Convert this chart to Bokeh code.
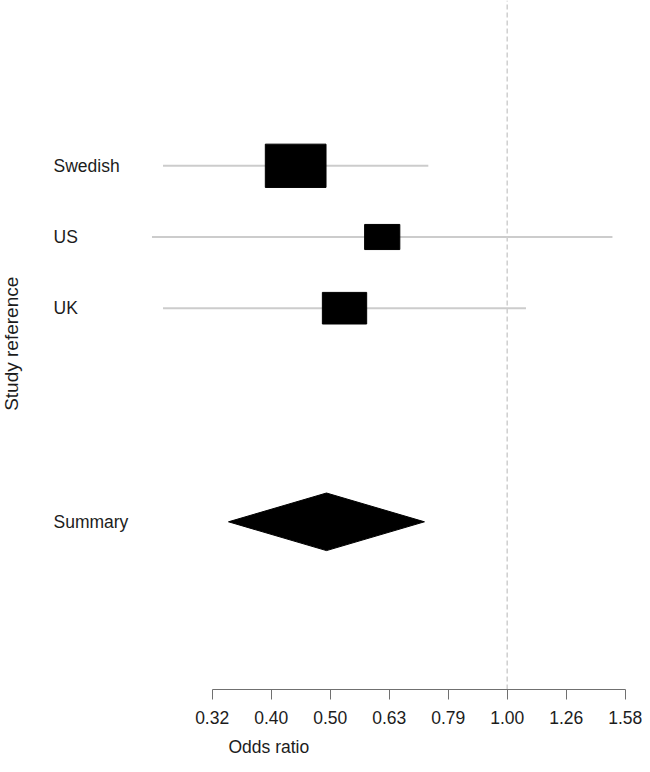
import math
from bokeh.plotting import figure
from bokeh.models import Range1d, FixedTicker
from bokeh.core.properties import value
from bokeh.embed import file_html
from bokeh.resources import INLINE

# ---------------- data ----------------
studies = ["Swedish", "US", "UK"]
study_rows = [1, 2, 3]
odds_ratio = [0.438, 0.614, 0.530]
ci_lower = [0.261, 0.250, 0.261]
ci_upper = [0.735, 1.508, 1.076]
relative_weight = [1.00, 0.58, 0.73]

summary_label = "Summary"
summary_row = 6
summary_or = 0.494
summary_lower = 0.337
summary_upper = 0.724

tick_values = [0.3162, 0.3981, 0.5012, 0.6310, 0.7943, 1.0, 1.2589, 1.5849]
tick_labels = ["0.32", "0.40", "0.50", "0.63", "0.79", "1.00", "1.26", "1.58"]

# ---------------- layout ----------------
W, H = 642, 756
PX_PER_DECADE = 590.0
X_ONE_PX = 506.7          # pixel position of OR = 1
PX_PER_ROW = 71.2
ROW0_PX = 94.1            # pixel position of row 0
AXIS_PX = 689.0

x_start = 10 ** (-X_ONE_PX / PX_PER_DECADE)
x_end = 10 ** ((W - X_ONE_PX) / PX_PER_DECADE)
y_top = -ROW0_PX / PX_PER_ROW
y_bottom = (H - ROW0_PX) / PX_PER_ROW
axis_row = (AXIS_PX - ROW0_PX) / PX_PER_ROW

BOX_W = 60.7
BOX_H = 43.3
DIAMOND_HALF_H = 28.8 / PX_PER_ROW

FONT = "Liberation Sans"
FONT_SIZE = "17.5px"
TEXT_COLOR = "#1c1c1c"

p = figure(width=W, height=H, x_axis_type="log",
           x_range=Range1d(x_start, x_end),
           y_range=Range1d(y_bottom, y_top),
           output_backend="svg", toolbar_location=None,
           min_border=0, y_axis_location=None, x_axis_location="below")
p.outline_line_color = None
p.xgrid.visible = False
p.ygrid.visible = False
p.background_fill_color = "white"
p.border_fill_color = "white"

ax = p.xaxis[0]
ax.fixed_location = axis_row
ax.ticker = FixedTicker(ticks=tick_values, minor_ticks=[])
ax.major_label_overrides = dict(zip(tick_values, tick_labels))
ax.bounds = (tick_values[0], tick_values[-1])
ax.axis_line_color = "#707070"
ax.axis_line_width = 1
ax.major_tick_line_color = "#707070"
ax.major_tick_out = 10
ax.major_tick_in = 0
ax.minor_tick_line_color = None
ax.major_label_standoff = 11
ax.major_label_text_font = FONT
ax.major_label_text_font_size = FONT_SIZE
ax.major_label_text_color = TEXT_COLOR

# confidence interval lines
p.segment(x0=ci_lower, y0=study_rows, x1=ci_upper, y1=study_rows,
          line_color="#cccccc", line_width=2)

# null line at OR = 1
p.segment(x0=[1.0], y0=[axis_row], x1=[1.0], y1=[y_top],
          line_color="#cfcfcf", line_width=1.5, line_dash="5 3")

# study boxes
p.rect(x=odds_ratio, y=study_rows,
       width=[BOX_W * w for w in relative_weight],
       height=[BOX_H * w for w in relative_weight],
       width_units="screen", height_units="screen",
       fill_color="black", line_color="black")

# summary diamond
p.patch(x=[summary_lower, summary_or, summary_upper, summary_or],
        y=[summary_row, summary_row - DIAMOND_HALF_H, summary_row, summary_row + DIAMOND_HALF_H],
        fill_color="black", line_color="black")

# study labels
p.text(x=[x_start] * (len(studies) + 1), y=study_rows + [summary_row],
       text=studies + [summary_label], x_offset=53,
       text_align="left", text_baseline="middle",
       text_font=value(FONT), text_font_size=FONT_SIZE, text_color=TEXT_COLOR)

# y axis title
p.text(x=[x_start], y=[(study_rows[0] + summary_row) / 2], text=["Study reference"],
       angle=math.pi / 2, text_align="center", text_baseline="top",
       text_font=value(FONT), text_font_size="19px", text_color=TEXT_COLOR)

# x axis title
p.text(x=[x_start], y=[y_bottom], text=["Odds ratio"], x_offset=228,
       text_align="left", text_baseline="bottom",
       text_font=value(FONT), text_font_size=FONT_SIZE, text_color=TEXT_COLOR)

open("out.html", "w").write(file_html(p, INLINE))
